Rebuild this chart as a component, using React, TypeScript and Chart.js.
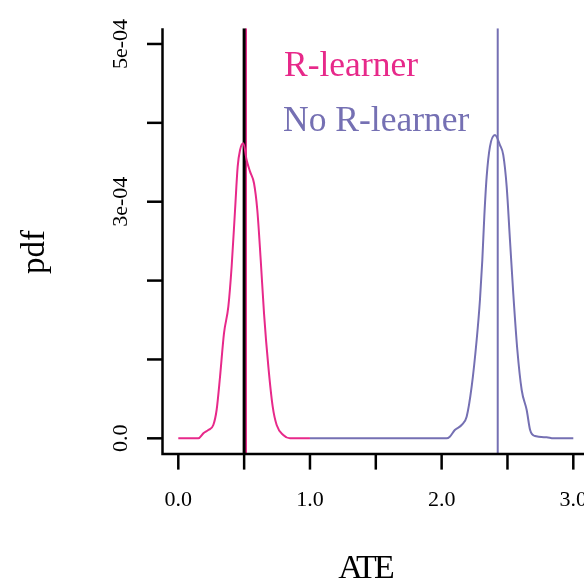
import React, { useEffect, useRef } from "react";
import { Chart, registerables } from "chart.js";

Chart.register(...registerables);

// R-learner density
const rlearnerX = [0.0, 0.152, 0.19, 0.228, 0.266, 0.291, 0.317, 0.347, 0.38, 0.405, 0.431, 0.451, 0.469, 0.494, 0.519, 0.545, 0.575, 0.6, 0.626, 0.651, 0.684, 0.717, 0.747, 0.797, 0.848, 1.0];
const rlearnerY = [0, 0, 0.063e-4, 0.105e-4, 0.169e-4, 0.359e-4, 0.781e-4, 1.332e-4, 1.669e-4, 2.176e-4, 2.895e-4, 3.444e-4, 3.656e-4, 3.741e-4, 3.529e-4, 3.381e-4, 3.234e-4, 2.895e-4, 2.261e-4, 1.585e-4, 0.908e-4, 0.401e-4, 0.169e-4, 0.042e-4, 0, 0];

// No R-learner density
const noRlearnerX = [1.0, 2.038, 2.062, 2.1, 2.152, 2.19, 2.228, 2.266, 2.291, 2.309, 2.324, 2.342, 2.367, 2.405, 2.443, 2.468, 2.494, 2.519, 2.544, 2.575, 2.608, 2.646, 2.672, 2.709, 2.798, 2.848, 3.0];
const noRlearnerY = [0, 0, 0.02e-4, 0.105e-4, 0.169e-4, 0.274e-4, 0.654e-4, 1.247e-4, 1.754e-4, 2.261e-4, 2.81e-4, 3.318e-4, 3.698e-4, 3.846e-4, 3.719e-4, 3.593e-4, 3.191e-4, 2.515e-4, 1.839e-4, 1.12e-4, 0.613e-4, 0.359e-4, 0.105e-4, 0.029e-4, 0.013e-4, 0, 0];

// vertical reference lines
const vlineValues = [0.5, 0.514, 2.426];
const vlineColors = ["#000000", "#E7298A", "#7570B3"];
const vlineWidths = [3, 2, 2];

// axes
const xTickValues = [0, 0.5, 1, 1.5, 2, 2.5, 3];
const xTickLabels = ["0.0", "", "1.0", "", "2.0", "", "3.0"];
const yTickValues = [0, 1e-4, 2e-4, 3e-4, 4e-4, 5e-4];
const yTickLabels = ["0.0", "", "", "3e-04", "", "5e-04"];

const seriesNames = ["R-learner", "No R-learner"];
const seriesColors = ["#E7298A", "#7570B3"];

const X_MIN = -0.12, X_MAX = 3.12, Y_MIN = -0.2e-4, Y_MAX = 5.2e-4;
const FONT = "'Liberation Serif', 'Times New Roman', serif";

const rAxesPlugin = {
  id: "rAxes",
  afterDraw(chart: any) {
    const ctx = chart.ctx;
    const { left, right, top, bottom } = chart.chartArea;
    const xs = chart.scales.x;
    const ys = chart.scales.y;
    ctx.save();
    ctx.strokeStyle = "#000";
    ctx.lineWidth = 2.5;
    ctx.lineCap = "butt";
    ctx.beginPath();
    ctx.moveTo(left, top);
    ctx.lineTo(left, bottom);
    ctx.lineTo(right, bottom);
    ctx.stroke();
    // x ticks
    ctx.fillStyle = "#000";
    ctx.font = `22px ${FONT}`;
    ctx.textAlign = "center";
    ctx.textBaseline = "alphabetic";
    xTickValues.forEach((v, i) => {
      const px = xs.getPixelForValue(v);
      ctx.beginPath();
      ctx.moveTo(px, bottom);
      ctx.lineTo(px, bottom + 15.5);
      ctx.stroke();
      if (xTickLabels[i]) ctx.fillText(xTickLabels[i], px, 506);
    });
    // y ticks
    yTickValues.forEach((v, i) => {
      const py = ys.getPixelForValue(v);
      ctx.beginPath();
      ctx.moveTo(left, py);
      ctx.lineTo(left - 15.5, py);
      ctx.stroke();
      if (yTickLabels[i]) {
        ctx.save();
        ctx.translate(127, py);
        ctx.rotate(-Math.PI / 2);
        ctx.fillText(yTickLabels[i], 0, 0);
        ctx.restore();
      }
    });
    // axis titles
    ctx.font = `34px ${FONT}`;
    ctx.save();
    (ctx as any).letterSpacing = "-3px";
    ctx.fillText("ATE", 365, 578);
    ctx.restore();
    ctx.save();
    ctx.font = `33px ${FONT}`;
    ctx.translate(44, 252);
    ctx.rotate(-Math.PI / 2);
    ctx.fillText("pdf", 0, 0);
    ctx.restore();
    // legend texts
    ctx.font = `35.5px ${FONT}`;
    ctx.textAlign = "left";
    ctx.fillStyle = seriesColors[0];
    ctx.fillText(seriesNames[0], 284, 76);
    ctx.fillStyle = seriesColors[1];
    ctx.fillText(seriesNames[1], 283, 131);
    ctx.restore();
  },
};

export default function App() {
  const ref = useRef<HTMLCanvasElement | null>(null);
  useEffect(() => {
    if (!ref.current) return;
    const curves = [
      { label: seriesNames[0], data: rlearnerX.map((x, i) => ({ x, y: rlearnerY[i] })), borderColor: seriesColors[0], borderWidth: 2 },
      { label: seriesNames[1], data: noRlearnerX.map((x, i) => ({ x, y: noRlearnerY[i] })), borderColor: seriesColors[1], borderWidth: 2 },
    ].map((d) => ({ ...d, pointRadius: 0, cubicInterpolationMode: "monotone" as const, fill: false }));
    const vlines = vlineValues.map((v, i) => ({
      label: "v" + i,
      data: [{ x: v, y: Y_MIN }, { x: v, y: Y_MAX }],
      borderColor: vlineColors[i],
      borderWidth: vlineWidths[i],
      pointRadius: 0,
      fill: false,
    }));
    const chart = new Chart(ref.current, {
      type: "line",
      data: { datasets: [...curves, ...vlines] as any },
      options: {
        animation: false,
        responsive: false,
        maintainAspectRatio: false,
        layout: { padding: { left: 162.5, right: 10.9, top: 28.2, bottom: 126.9 } },
        plugins: { legend: { display: false }, tooltip: { enabled: false } },
        scales: {
          x: { type: "linear", min: X_MIN, max: X_MAX, display: false },
          y: { type: "linear", min: Y_MIN, max: Y_MAX, display: false },
        },
      },
      plugins: [rAxesPlugin],
    });
    return () => chart.destroy();
  }, []);
  return (
    <div style={{ position: "fixed", left: 0, top: 0, width: 584, height: 581, overflow: "hidden", background: "#fff" }}>
      <canvas ref={ref} width={600} height={581} style={{ display: "block" }} />
    </div>
  );
}
